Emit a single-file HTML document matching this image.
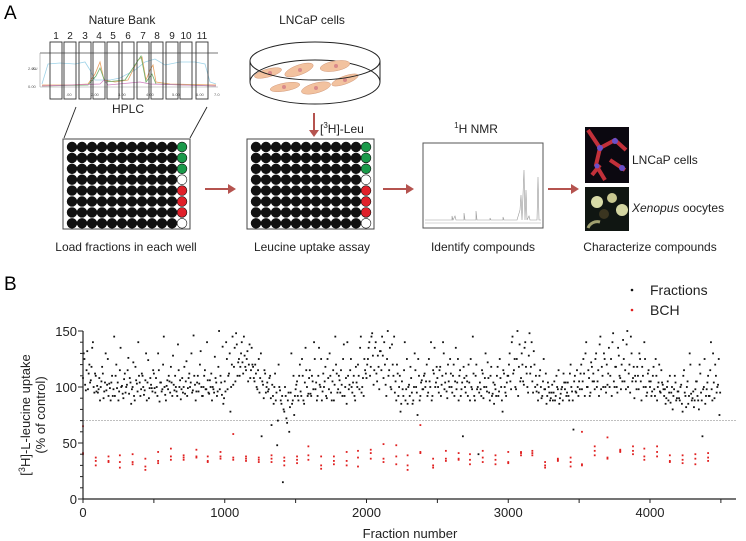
<!DOCTYPE html>
<html><head><meta charset="utf-8">
<style>
html,body{margin:0;padding:0;background:#fff;}
svg{display:block;font-family:"Liberation Sans",sans-serif;}
</style></head>
<body>
<svg id="fig" width="746" height="541" viewBox="0 0 746 541" xmlns="http://www.w3.org/2000/svg">
<g>
  <text x="4" y="19" font-size="19">A</text>
  <text x="122" y="24" font-size="12" text-anchor="middle" fill="#222">Nature Bank</text>
  <g id="hplc">
    <line x1="40" y1="53" x2="218" y2="53" stroke="#777" stroke-width="1"/>
    <line x1="40" y1="53" x2="40" y2="87" stroke="#999" stroke-width="0.6"/>
    <line x1="40" y1="87" x2="218" y2="87" stroke="#999" stroke-width="0.6"/>
    <polyline fill="none" stroke="#9fd3e8" stroke-width="0.8" points="42,84 48,64 60,63 75,64 85,62 90,70 95,80 110,80 120,78 135,70 145,62 155,59 165,65 180,62 195,62 205,64 210,82 216,84"/>
    <polyline fill="none" stroke="#e8a060" stroke-width="0.8" points="42,85 70,85 88,84 95,74 100,62 104,80 115,82 128,80 138,60 142,57 146,80 150,70 153,65 156,82 170,84 216,85"/>
    <polyline fill="none" stroke="#6ab06a" stroke-width="0.8" points="42,86 88,85 96,76 100,68 105,82 125,80 137,62 141,56 146,82 152,74 156,84 216,86"/>
    <polyline fill="none" stroke="#d080c0" stroke-width="0.7" points="42,86 100,84 104,80 108,85 140,82 150,84 216,86"/>
    <text x="32" y="70" font-size="4" fill="#555">AU</text>
    <text x="28" y="70" font-size="4" fill="#555">2.00</text>
    <text x="28" y="88" font-size="4" fill="#555">0.00</text>
    <text x="66" y="96" font-size="4" fill="#555">.00</text>
    <text x="91" y="96" font-size="4" fill="#555">2.00</text>
    <text x="118" y="96" font-size="4" fill="#555">3.00</text>
    <text x="146" y="96" font-size="4" fill="#555">4.00</text>
    <text x="172" y="96" font-size="4" fill="#555">5.00</text>
    <text x="196" y="96" font-size="4" fill="#555">6.00</text>
    <text x="214" y="96" font-size="4" fill="#555">7.0</text>
  </g>
  <g id="hplcCols"></g>
  <text x="128" y="113" font-size="12" text-anchor="middle" fill="#222">HPLC</text>
  <line x1="64" y1="138" x2="76" y2="107" stroke="#222" stroke-width="0.9"/>
  <line x1="190" y1="138" x2="207" y2="107" stroke="#222" stroke-width="0.9"/>

  <text x="312" y="24" font-size="12" text-anchor="middle" fill="#222">LNCaP cells</text>
  <g>
    <ellipse cx="315" cy="82" rx="65" ry="22" fill="none" stroke="#222" stroke-width="1"/>
    <line x1="250" y1="61" x2="250" y2="82" stroke="#222"/>
    <line x1="380" y1="61" x2="380" y2="82" stroke="#222"/>
    <g fill="#f2c29f" stroke="#c98b6b" stroke-width="0.4">
      <ellipse cx="268" cy="73" rx="14" ry="4" transform="rotate(-15 268 73)"/>
      <ellipse cx="299" cy="70" rx="15" ry="5" transform="rotate(-20 299 70)"/>
      <ellipse cx="335" cy="66" rx="15" ry="5" transform="rotate(-10 335 66)"/>
      <ellipse cx="285" cy="87" rx="15" ry="4" transform="rotate(-10 285 87)"/>
      <ellipse cx="316" cy="88" rx="15" ry="5" transform="rotate(-15 316 88)"/>
      <ellipse cx="345" cy="80" rx="14" ry="4" transform="rotate(-20 345 80)"/>
    </g>
    <g fill="#d98a8a">
      <circle cx="270" cy="73" r="2"/><circle cx="300" cy="70" r="2"/><circle cx="336" cy="66" r="2"/>
      <circle cx="284" cy="87" r="2"/><circle cx="316" cy="88" r="2"/><circle cx="345" cy="80" r="2"/>
    </g>
    <ellipse cx="315" cy="61" rx="65" ry="19" fill="none" stroke="#222" stroke-width="1"/>
  </g>
  <g>
    <line x1="314" y1="113" x2="314" y2="132" stroke="#b5534f" stroke-width="2"/>
    <polygon points="309,130 319,130 314,137" fill="#b5534f"/>
  </g>
  <text x="320" y="133" font-size="12" fill="#222">[<tspan font-size="8" dy="-5">3</tspan><tspan dy="5">H]-Leu</tspan></text>

  <g id="plate1"></g>
  <g id="plate2"></g>

  <g fill="#b5534f">
    <line x1="205" y1="189" x2="230" y2="189" stroke="#b5534f" stroke-width="2"/><polygon points="228,184 236,189 228,194"/>
    <line x1="383" y1="189" x2="408" y2="189" stroke="#b5534f" stroke-width="2"/><polygon points="406,184 414,189 406,194"/>
    <line x1="548" y1="189" x2="573" y2="189" stroke="#b5534f" stroke-width="2"/><polygon points="571,184 579,189 571,194"/>
  </g>

  <text x="476" y="133" font-size="12" text-anchor="middle" fill="#222"><tspan font-size="8" dy="-5">1</tspan><tspan dy="5">H NMR</tspan></text>
  <g>
    <rect x="423" y="143" width="120" height="85" fill="#fff" stroke="#555" stroke-width="1"/>
    <line x1="425" y1="223" x2="541" y2="223" stroke="#aaa" stroke-width="0.6"/>
    <polyline fill="none" stroke="#999" stroke-width="0.6" points="425,220 452,220 452,216 453,220 455,216 456,220 464,220 464,213 465,220 476,220 476,211 477,220 490,220 490,218 491,220 503,220 503,217 504,220 517,220 520,210 521,195 522,220 524,170 525,220 526,190 527,220 529,216 530,220 537,220 538,177 539,220 541,220"/>
  </g>

  <g>
    <rect x="585" y="127" width="44" height="56" fill="#0b0810"/>
    <path d="M588,130 L600,148 L596,165 L605,180 M600,148 L615,140 L626,150 M610,160 L625,170 M592,175 L600,165" stroke="#c2303a" stroke-width="4" fill="none"/>
    <circle cx="600" cy="148" r="3" fill="#6a4fc8"/><circle cx="615" cy="141" r="3" fill="#6a4fc8"/><circle cx="622" cy="168" r="3" fill="#6a4fc8"/><circle cx="597" cy="166" r="2.5" fill="#6a4fc8"/>
  </g>
  <g>
    <rect x="585" y="187" width="44" height="44" fill="#101612"/>
    <circle cx="597" cy="202" r="6" fill="#d9dca8"/><circle cx="612" cy="198" r="5" fill="#c8c890"/>
    <circle cx="604" cy="214" r="5" fill="#3a3520"/><circle cx="622" cy="210" r="6" fill="#d4d6a2"/>
    <path d="M588,228 A10,10 0 0 1 600,222" stroke="#a0a070" stroke-width="3" fill="none"/>
  </g>
  <text x="632" y="164" font-size="12" fill="#222">LNCaP cells</text>
  <text x="632" y="212" font-size="12" fill="#222"><tspan font-style="italic">Xenopus</tspan> oocytes</text>

  <text x="126" y="251" font-size="12" text-anchor="middle" fill="#222">Load fractions in each well</text>
  <text x="312" y="251" font-size="12" text-anchor="middle" fill="#222">Leucine  uptake assay</text>
  <text x="483" y="251" font-size="12" text-anchor="middle" fill="#222">Identify compounds</text>
  <text x="650" y="251" font-size="12" text-anchor="middle" fill="#222">Characterize compounds</text>
</g>

<g>
  <text x="4" y="290" font-size="19">B</text>
  <circle cx="632" cy="290" r="1.3" fill="#111"/>
  <text x="650" y="295" font-size="14" fill="#222">Fractions</text>
  <circle cx="632" cy="310" r="1.3" fill="#e02020"/>
  <text x="650" y="315" font-size="14" fill="#222">BCH</text>
  <g id="chart"></g>
  <text transform="translate(30,415) rotate(-90)" font-size="13" text-anchor="middle" fill="#222">[<tspan font-size="9" dy="-5">3</tspan><tspan dy="5">H]-L-leucine uptake</tspan></text>
  <text transform="translate(45,415) rotate(-90)" font-size="13" text-anchor="middle" fill="#222">(% of control)</text>
  <text x="410" y="538" font-size="13" text-anchor="middle" fill="#222">Fraction number</text>
</g>
</svg>
<script>
// ---- Chart data ----
const fractionStep = 10;
const fractionValues = [
108,125,97,132,112,104,118,140,95,110,
101,98,88,105,112,96,130,102,92,99,
104,92,145,110,99,88,115,100,94,107,
95,102,126,108,85,100,92,118,103,140,
104,98,110,93,106,88,124,99,102,96,
112,95,100,130,87,104,98,145,93,101,
98,105,118,92,102,110,96,138,100,89,
108,100,94,123,99,112,104,95,146,102,
96,110,103,132,92,100,115,98,106,94,
100,88,98,127,104,96,150,110,93,85,
105,140,98,112,78,120,102,135,148,110,
125,118,140,112,128,115,132,120,108,135,
118,105,112,98,125,108,56,102,115,95,
104,98,110,66,92,100,88,48,120,97,
85,15,78,92,68,95,82,130,88,75,
98,105,88,120,92,110,85,135,100,94,
115,92,105,140,98,88,110,102,125,96,
100,118,90,108,130,95,105,88,145,112,
98,106,115,92,138,100,85,110,102,125,
95,110,88,104,120,98,145,100,92,115,
108,125,140,118,148,102,135,112,128,98,
132,145,108,120,92,150,115,100,138,110,
95,88,112,100,78,105,92,140,98,85,
102,118,95,88,130,100,75,110,92,106,
98,112,105,92,125,100,88,115,135,104,
108,95,118,102,140,98,112,90,105,125,
100,110,92,135,104,88,115,98,56,108,
95,105,120,88,100,145,92,110,98,40,
104,92,112,100,130,96,108,88,118,94,
85,98,110,92,125,100,78,112,95,104,
110,130,98,145,115,100,125,92,138,108,
120,102,140,112,95,148,118,105,132,100,
96,88,110,100,92,125,98,85,104,95,
90,102,95,88,110,98,85,94,100,112,
98,92,104,88,120,96,62,110,95,100,
105,112,98,125,92,140,100,108,95,118,
112,98,130,105,92,145,118,100,125,95,
102,135,110,92,148,100,118,95,128,108,
120,142,105,98,150,112,95,130,108,90,
105,118,98,125,88,110,140,100,95,115,
100,92,110,98,125,88,104,96,115,102,
92,85,100,88,110,95,80,98,104,90,
96,88,102,78,115,92,100,85,130,94,
90,82,98,105,88,120,95,56,100,85,
98,110,92,140,88,104,120,95,102,75
];
// second set of fractions (offset by half a step)
const fractionValuesB = [
130,102,115,98,120,106,135,100,112,96,
95,108,100,118,90,104,97,125,103,88,
110,98,92,120,104,96,135,101,90,112,
100,115,94,104,98,122,88,106,96,110,
92,112,100,97,130,104,90,108,99,115,
99,108,92,115,104,96,120,100,88,106,
110,95,104,128,97,100,92,115,106,98,
95,118,105,92,108,100,130,97,110,88,
104,96,120,100,92,110,98,140,95,106,
112,100,95,108,92,118,98,104,136,90,
96,125,110,130,100,145,118,105,138,122,
110,130,122,145,118,125,105,138,115,120,
108,120,100,115,95,130,105,90,112,100,
96,108,90,102,85,112,95,70,100,88,
92,80,100,72,88,60,95,85,110,92,
102,92,110,96,125,88,104,115,92,108,
94,110,98,125,104,92,135,100,88,112,
105,92,125,98,110,88,115,102,120,95,
110,95,102,125,92,108,140,98,115,100,
104,92,118,100,110,135,95,108,125,112,
120,135,110,145,128,115,140,105,118,132,
115,128,140,102,125,110,135,98,120,145,
105,120,92,110,85,98,115,88,125,100,
92,108,85,100,115,95,125,88,104,98,
110,100,120,95,105,140,92,112,100,118,
100,115,92,110,130,104,96,120,100,112,
95,120,105,98,125,110,92,104,118,100,
110,92,104,125,98,112,88,120,100,95,
98,115,90,108,100,122,95,110,92,104,
102,92,118,96,108,88,115,100,92,110,
120,105,140,112,125,98,150,118,105,130,
105,135,118,100,128,112,140,95,120,110,
102,95,115,90,105,98,112,92,100,88,
95,88,105,92,100,115,90,98,88,104,
104,95,92,112,100,88,105,96,115,92,
98,120,105,112,130,100,115,92,122,105,
105,125,100,115,138,98,110,130,100,120,
112,100,125,140,105,118,100,135,110,98,
105,125,115,138,100,120,145,105,118,110,
98,110,130,105,118,100,125,92,112,105,
105,96,118,92,110,100,120,95,104,98,
98,90,105,95,86,100,92,110,88,96,
90,100,85,110,95,82,105,92,120,88,
96,88,105,92,80,112,88,98,125,92,
104,92,115,98,130,90,110,100,125,95
];
const bchFractions = [0,90,180,260,350,440,530,620,710,800,880,970,1060,1150,1240,1330,1420,1510,1590,1680,1770,1860,1940,2030,2120,2210,2290,2380,2470,2560,2650,2730,2820,2910,3000,3090,3170,3260,3350,3440,3520,3610,3700,3790,3880,3960,4050,4140,4230,4320,4410];
const bchValues = [
[65,40,41],[37,34,30],[38,34,33],[39,33,28],[40,33,31],[36,29,26],[42,34,32],[45,38,35],[39,37,35],[44,38,37],
[38,34,33],[42,38,36],[58,37,35],[38,36,34],[37,35,33],[39,36,33],[37,34,30],[38,35,32],[47,39,35],[38,30,27],
[38,34,31],[42,34,30],[43,37,29],[44,41,36],[49,36,33],[48,38,31],[39,30,26],[66,42,41],[36,30,28],[43,36,34],
[41,36,35],[40,35,31],[43,37,33],[39,35,31],[42,33,32],[42,41,39],[43,41,39],[33,30,28],[36,35,34],[37,33,29],
[60,31,30],[47,43,39],[55,37,36],[44,43,42],[47,43,40],[45,38,35],[47,42,38],[39,34,33],[39,35,32],[40,36,31],[41,37,34]
];
const yTicks = [0,50,100,150];
const xTicks = [0,1000,2000,3000,4000];
const thresholdValue = 70;

const NS = "http://www.w3.org/2000/svg";
function mk(tag, attrs, parent){const e=document.createElementNS(NS,tag);for(const k in attrs)e.setAttribute(k,attrs[k]);parent.appendChild(e);return e;}
const xScale = f => 83 + f * (567/4000);
const yScale = v => 499 - v * (168/150);

const chart = document.getElementById('chart');
const th = mk('line',{x1:xScale(0),x2:736,y1:yScale(thresholdValue),y2:yScale(thresholdValue),stroke:'#aaa','stroke-width':0.8,'stroke-dasharray':'2,1'},chart);


fractionValues.forEach((v,i)=>{
  const c = mk('rect',{x:xScale(i*fractionStep)-0.9,y:yScale(v)-0.9,width:1.8,height:1.8,fill:'#111'},chart);
  
  
});
fractionValuesB.forEach((v,i)=>{
  const c = mk('rect',{x:xScale(i*fractionStep+fractionStep/2)-0.9,y:yScale(v)-0.9,width:1.8,height:1.8,fill:'#111'},chart);
  
  
});
bchFractions.forEach((f,g)=>{
  bchValues[g].forEach(v=>{
    const c = mk('rect',{x:xScale(f)-0.9,y:yScale(v)-0.9,width:1.8,height:1.8,fill:'#e02020'},chart);
    
    
  });
});
const ya = mk('line',{x1:83,x2:83,y1:yScale(150),y2:499,stroke:'#222','stroke-width':1.2},chart);


const xa = mk('line',{x1:83,x2:736,y1:499,y2:499,stroke:'#222','stroke-width':1.2},chart);


for(let v=0; v<=150; v+=10){
  const t = mk('line',{x1:83-(v%50===0?5:3),x2:83,y1:yScale(v),y2:yScale(v),stroke:'#222','stroke-width':1},chart);
  
  
}
yTicks.forEach(v=>{
  const t = mk('text',{x:77,y:yScale(v)+5,'font-size':13,'text-anchor':'end',fill:'#222'},chart);
  t.textContent = v;
  
  
});
for(let f=0; f<=4500; f+=500){
  const t = mk('line',{x1:xScale(f),x2:xScale(f),y1:499,y2:503,stroke:'#222','stroke-width':1},chart);
  
  
}
xTicks.forEach(f=>{
  const t = mk('text',{x:xScale(f),y:517,'font-size':13,'text-anchor':'middle',fill:'#222'},chart);
  t.textContent = f;
  
  
});

const colCenters = [56,70,85,99,113,128,143,157,172,186,202];
const cols = document.getElementById('hplcCols');
colCenters.forEach((cx,i)=>{
  const r = mk('rect',{x:cx-6,y:42,width:12,height:57,fill:'none',stroke:'#333','stroke-width':0.9},cols);
  
  
  const t = mk('text',{x:cx,y:39,'font-size':10,'text-anchor':'middle',fill:'#222'},cols);
  t.textContent = i+1;
  
  
});

const lastCol = ['#1a9a4a','#1a9a4a','#1a9a4a','#fff','#e0202a','#e0202a','#e0202a','#fff'];
function plate(id,x0){
  const g = document.getElementById(id);
  mk('rect',{x:x0,y:139,width:127,height:90,fill:'#fff',stroke:'#444','stroke-width':1},g);
  for(let r=0;r<8;r++){for(let c=0;c<12;c++){
    const fill = c===11 ? lastCol[r] : '#111';
    const w = mk('circle',{cx:x0+9+c*10,cy:147+r*10.9,r:4.9,fill:fill,stroke:'#111','stroke-width':0.6},g);
    
    
  }}
}
plate('plate1',63);
plate('plate2',247);
</script>
</body></html>
